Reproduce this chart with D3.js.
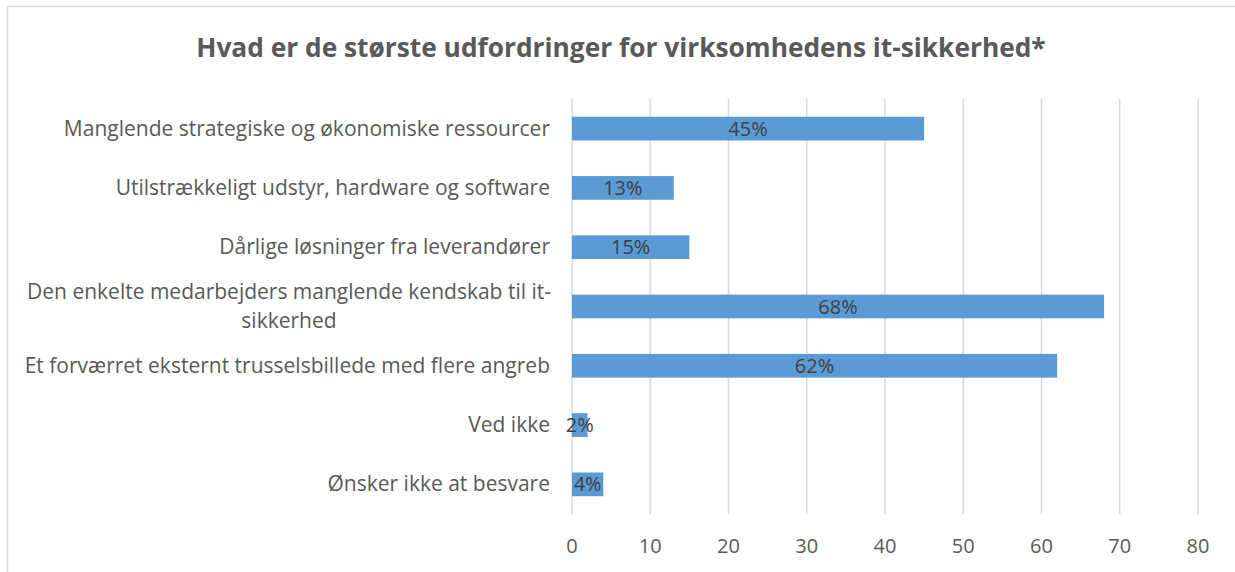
<!DOCTYPE html>
<html lang="da">
<head>
<meta charset="UTF-8">
<title>it-sikkerhed</title>
<script src="https://d3js.org/d3.v7.min.js"></script>
<style>
    body { margin: 0; background: #fff; }
    text { font-family: 'Open Sans', sans-serif; fill: #595959; }
</style>
</head>
<body>
<script>
    // data
    var categories = [
        "Manglende strategiske og økonomiske ressourcer",
        "Utilstrækkeligt udstyr, hardware og software",
        "Dårlige løsninger fra leverandører",
        "Den enkelte medarbejders manglende kendskab til it-|sikkerhed",
        "Et forværret eksternt trusselsbillede med flere angreb",
        "Ved ikke",
        "Ønsker ikke at besvare"
    ];
    var values = [45, 13, 15, 68, 62, 2, 4];
    var ticks = [0, 10, 20, 30, 40, 50, 60, 70, 80];
    var title = "Hvad er de største udfordringer for virksomhedens it-sikkerhed*";

    var width = 1235, height = 572;
    var svg = d3.select('body').append('svg')
        .attr('width', width)
        .attr('height', height);

    // chart border
    svg.append('rect')
        .attr('x', 7.5).attr('y', 6.5)
        .attr('width', 1240).attr('height', 600)
        .attr('fill', 'none')
        .attr('stroke', '#d9d9d9')
        .attr('stroke-width', 1.5);

    svg.append('text')
        .attr('x', 621).attr('y', 57)
        .attr('text-anchor', 'middle')
        .style('font-size', '26.3px')
        .style('font-weight', 'bold')
        .text(title);

    var x = d3.scaleLinear().domain([0, 80]).range([572, 1198]);
    var y = d3.scaleBand().domain(categories).range([99, 514]).paddingInner(0.6).paddingOuter(0.3);

    // gridlines
    svg.append('g')
        .selectAll('line')
        .data(ticks)
        .join('line')
        .attr('x1', d => x(d)).attr('x2', d => x(d))
        .attr('y1', 99).attr('y2', 514)
        .attr('stroke', '#d9d9d9')
        .attr('stroke-width', 1.5);

    // tick labels
    svg.append('g')
        .selectAll('text')
        .data(ticks)
        .join('text')
        .attr('x', d => x(d))
        .attr('y', 553)
        .attr('text-anchor', 'middle')
        .style('font-size', '20px')
        .text(d => d);

    // bars
    svg.append('g')
        .selectAll('rect')
        .data(values)
        .join('rect')
        .attr('x', x(0))
        .attr('y', (d, i) => y(categories[i]))
        .attr('width', d => x(d) - x(0))
        .attr('height', y.bandwidth())
        .attr('fill', '#5b9bd5');

    // value labels
    svg.append('g')
        .selectAll('text')
        .data(values)
        .join('text')
        .attr('x', d => (x(d) + x(0)) / 2)
        .attr('y', (d, i) => y(categories[i]) + y.bandwidth() / 2 + 7)
        .attr('text-anchor', 'middle')
        .style('font-size', '20px')
        .style('fill', '#404040')
        .text(d => d + '%');

    // category labels
    var lab = svg.append('g')
        .selectAll('text')
        .data(categories)
        .join('text')
        .style('font-size', '21px')
        .attr('y', d => y(d) + y.bandwidth() / 2 + 7);

    lab.each(function (d) {
        var t = d3.select(this), parts = d.split('|');
        if (parts.length == 1) {
            t.attr('x', 550).attr('text-anchor', 'end').text(d);
        } else {
            t.attr('text-anchor', 'middle').attr('y', y(d) + y.bandwidth() / 2 - 8);
            parts.forEach(function (p, j) {
                t.append('tspan').attr('x', 289).attr('dy', j ? 29 : 0).text(p);
            });
        }
    });
</script>
</body>
</html>
